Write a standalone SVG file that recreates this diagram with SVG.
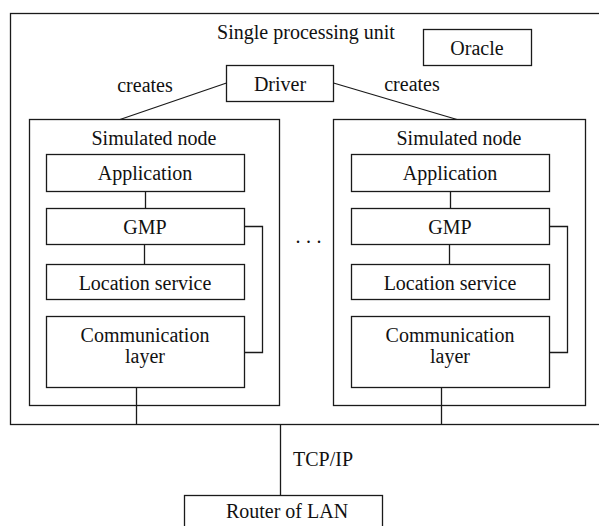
<svg xmlns="http://www.w3.org/2000/svg" width="599" height="526" viewBox="0 0 599 526">
  <style>
    .box { fill: #fff; stroke: #1a1a1a; stroke-width: 1.3; }
    .wire { fill: none; stroke: #1a1a1a; stroke-width: 1.3; }
    .t { font-family: "Liberation Serif", "Times New Roman", serif; font-size: 20px; fill: #111; text-anchor: middle; }
  </style>
  <rect width="599" height="526" fill="#fff"/>

  <!-- enclosing processing unit -->
  <g id="unit">
    <rect class="box" x="10.5" y="13.5" width="600" height="411"/>
    <text class="t" x="306" y="39">Single processing unit</text>
  </g>

  <g id="oracle">
    <rect class="box" x="423.5" y="29.5" width="108" height="36"/>
    <text class="t" x="477" y="55">Oracle</text>
  </g>

  <g id="driver">
    <rect class="box" x="226.5" y="65.5" width="107" height="36"/>
    <text class="t" x="280" y="91">Driver</text>
  </g>

  <!-- left simulated node -->
  <g id="node-left">
    <rect class="box" x="29.5" y="119.5" width="250" height="286"/>
    <text class="t" x="154" y="145">Simulated node</text>
  </g>
  <g id="app-left">
    <rect class="box" x="46.5" y="154.5" width="198" height="37"/>
    <text class="t" x="145" y="180">Application</text>
  </g>
  <g id="gmp-left">
    <rect class="box" x="46.5" y="208.5" width="198" height="36"/>
    <text class="t" x="145" y="234">GMP</text>
  </g>
  <g id="loc-left">
    <rect class="box" x="46.5" y="264.5" width="198" height="35"/>
    <text class="t" x="145" y="290">Location service</text>
  </g>
  <g id="comm-left">
    <rect class="box" x="46.5" y="316.5" width="198" height="71"/>
    <text class="t" x="145" y="342">Communication</text>
    <text class="t" x="145" y="363">layer</text>
  </g>

  <!-- right simulated node -->
  <g id="node-right">
    <rect class="box" x="333.5" y="119.5" width="252" height="286"/>
    <text class="t" x="459" y="145">Simulated node</text>
  </g>
  <g id="app-right">
    <rect class="box" x="351.5" y="154.5" width="198" height="37"/>
    <text class="t" x="450" y="180">Application</text>
  </g>
  <g id="gmp-right">
    <rect class="box" x="351.5" y="208.5" width="198" height="36"/>
    <text class="t" x="450" y="234">GMP</text>
  </g>
  <g id="loc-right">
    <rect class="box" x="351.5" y="264.5" width="198" height="35"/>
    <text class="t" x="450" y="290">Location service</text>
  </g>
  <g id="comm-right">
    <rect class="box" x="351.5" y="316.5" width="198" height="71"/>
    <text class="t" x="450" y="342">Communication</text>
    <text class="t" x="450" y="363">layer</text>
  </g>

  <!-- more nodes in between -->
  <g id="ellipsis">
    <text class="t" style="text-anchor:start" x="295.5 306 316.5" y="243">...</text>
  </g>

  <g id="router">
    <rect class="box" x="184.5" y="495.5" width="198" height="40"/>
    <text class="t" x="287" y="518">Router of LAN</text>
  </g>

  <!-- connectors -->
  <g id="connectors">
    <line class="wire" x1="226.5" y1="83" x2="120" y2="119.5"/>
    <line class="wire" x1="333.5" y1="83" x2="457" y2="119.5"/>
    <text class="t" x="145" y="92">creates</text>
    <text class="t" x="412" y="91">creates</text>

    <line class="wire" x1="145.5" y1="191.5" x2="145.5" y2="208.5"/>
    <line class="wire" x1="144.5" y1="244.5" x2="144.5" y2="264.5"/>
    <polyline class="wire" points="244.5,226.5 262.5,226.5 262.5,352.5 244.5,352.5"/>
    <line class="wire" x1="136.5" y1="387.5" x2="136.5" y2="424.5"/>

    <line class="wire" x1="450.5" y1="191.5" x2="450.5" y2="208.5"/>
    <line class="wire" x1="449.5" y1="244.5" x2="449.5" y2="264.5"/>
    <polyline class="wire" points="549.5,226.5 567.5,226.5 567.5,352.5 549.5,352.5"/>
    <line class="wire" x1="441.5" y1="387.5" x2="441.5" y2="424.5"/>

    <line class="wire" x1="280.5" y1="424.5" x2="280.5" y2="495.5"/>
    <text class="t" x="323" y="466">TCP/IP</text>
  </g>
</svg>
